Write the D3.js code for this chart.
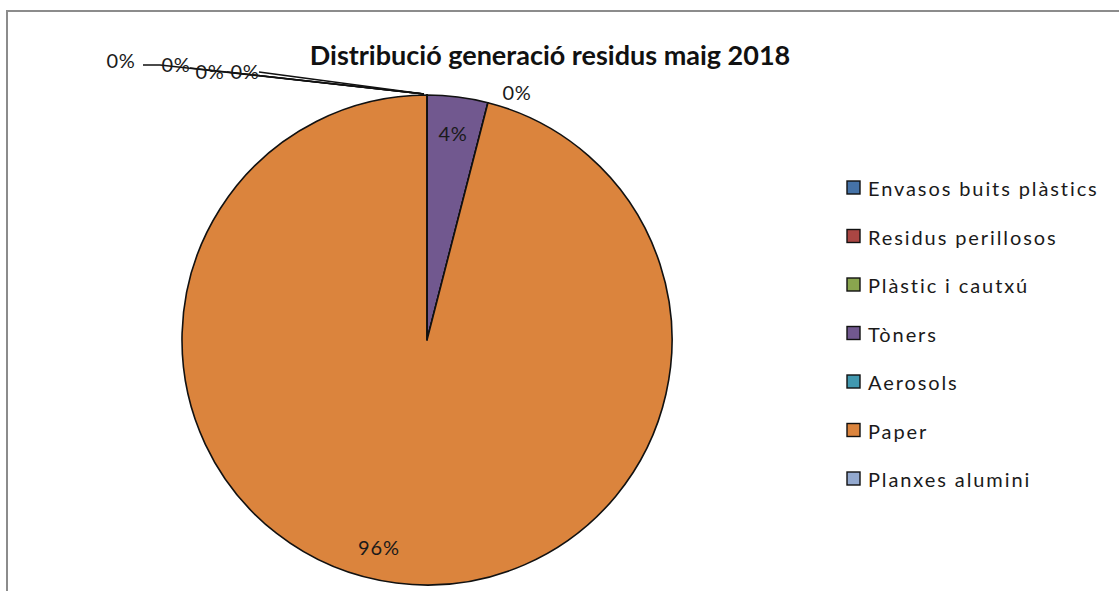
<!DOCTYPE html>
<html>
<head>
<meta charset="utf-8">
<script src="https://cdnjs.cloudflare.com/ajax/libs/d3/7.8.5/d3.min.js"></script>
<style>
  html, body { margin: 0; padding: 0; background: #fff; }
  svg { display: block; }
</style>
</head>
<body>
<svg id="chart" width="1119" height="591"></svg>
<script>
const title = "Distribució generació residus maig 2018";
const categories = ["Envasos buits plàstics", "Residus perillosos", "Plàstic i cautxú", "Tòners", "Aerosols", "Paper", "Planxes alumini"];
const values = [0, 0, 0, 4, 0, 96, 0];
const colors = ["#4572A7", "#AA4643", "#89A54E", "#71588F", "#4198AF", "#DB843D", "#93A9CF"];

const svg = d3.select("#chart");
const W = 1119, H = 591;

// outer chart border
svg.append("rect")
  .attr("x", 7).attr("y", 11)
  .attr("width", W + 20).attr("height", H + 20)
  .attr("fill", "#fff")
  .attr("stroke", "#8c8c8c").attr("stroke-width", 2);

// title
svg.append("text")
  .attr("x", 550).attr("y", 65)
  .attr("text-anchor", "middle")
  .attr("font-family", "Lato, sans-serif")
  .attr("font-weight", "bold")
  .attr("font-size", 27)
  .attr("fill", "#111")
  .text(title);

const cx = 427, cy = 340, r = 245;
const total = d3.sum(values);
const pie = d3.pie().sort(null).value(d => d);
const arcs = pie(values);
const arc = d3.arc().innerRadius(0).outerRadius(r);
const labelArc = d3.arc().innerRadius(r * 0.85).outerRadius(r * 0.85);

const g = svg.append("g").attr("transform", `translate(${cx},${cy})`);

g.selectAll("path.slice")
  .data(arcs)
  .join("path")
  .attr("class", "slice")
  .attr("d", arc)
  .attr("fill", (d, i) => colors[i])
  .attr("stroke", "#111")
  .attr("stroke-width", 1.6)
  .attr("stroke-linejoin", "round");

const fmt = v => Math.round(v / total * 100) + "%";
const labelFont = "Lato, sans-serif";

// placement offsets for zero-value labels (layout only)
const outsideOffsets = {
  0: { dx: -306, dy: -280, leader: [[-284, -275], [-267, -275]] },
  1: { dx: -251, dy: -276, leader: [[-237, -272]] },
  2: { dx: -217, dy: -269, leader: [[-200, -268]] },
  4: { dx: 90,  dy: -248, leader: null },
  6: { dx: -182, dy: -269, leader: [[-168, -268]] }
};

arcs.forEach((d, i) => {
  if (d.data > 0) {
    let [x, y] = labelArc.centroid(d);
    if (i === 5) { x -= 22; }
    g.append("text")
      .attr("x", x).attr("y", y)
      .attr("text-anchor", "middle")
      .attr("dominant-baseline", "central")
      .attr("font-family", labelFont)
      .attr("font-size", 20)
      .attr("letter-spacing", 0.8)
      .attr("fill", "#1a1a1a")
      .text(fmt(d.data));
  }
});

// leader lines for zero slices
const topPt = [0, -r];
Object.entries(outsideOffsets).forEach(([k, o]) => {
  if (o.leader) {
    const pts = o.leader.concat([[topPt[0] - 3, topPt[1] - 1]]);
    g.append("path")
      .attr("d", d3.line()(pts))
      .attr("fill", "none")
      .attr("stroke", "#111")
      .attr("stroke-width", 1.5);
  }
});
Object.entries(outsideOffsets).forEach(([k, o]) => {
  g.append("text")
    .attr("x", o.dx).attr("y", o.dy)
    .attr("text-anchor", "middle")
    .attr("dominant-baseline", "central")
    .attr("font-family", labelFont)
    .attr("font-size", 20)
    .attr("letter-spacing", 0.8)
    .attr("fill", "#1a1a1a")
    .text(fmt(values[+k]));
});

// legend
const legend = svg.append("g").attr("transform", "translate(847,188)");
const rowH = 48.5;
const items = legend.selectAll("g.item")
  .data(categories)
  .join("g")
  .attr("class", "item")
  .attr("transform", (d, i) => `translate(0,${i * rowH})`);
items.append("rect")
  .attr("x", 0).attr("y", -7)
  .attr("width", 13).attr("height", 13)
  .attr("fill", (d, i) => colors[i])
  .attr("stroke", "#111").attr("stroke-width", 1.4);
items.append("text")
  .attr("x", 21).attr("y", 0)
  .attr("dominant-baseline", "central")
  .attr("font-family", labelFont)
  .attr("font-size", 20)
  .attr("letter-spacing", 1.9)
  .attr("fill", "#1a1a1a")
  .text(d => d);
</script>
</body>
</html>
